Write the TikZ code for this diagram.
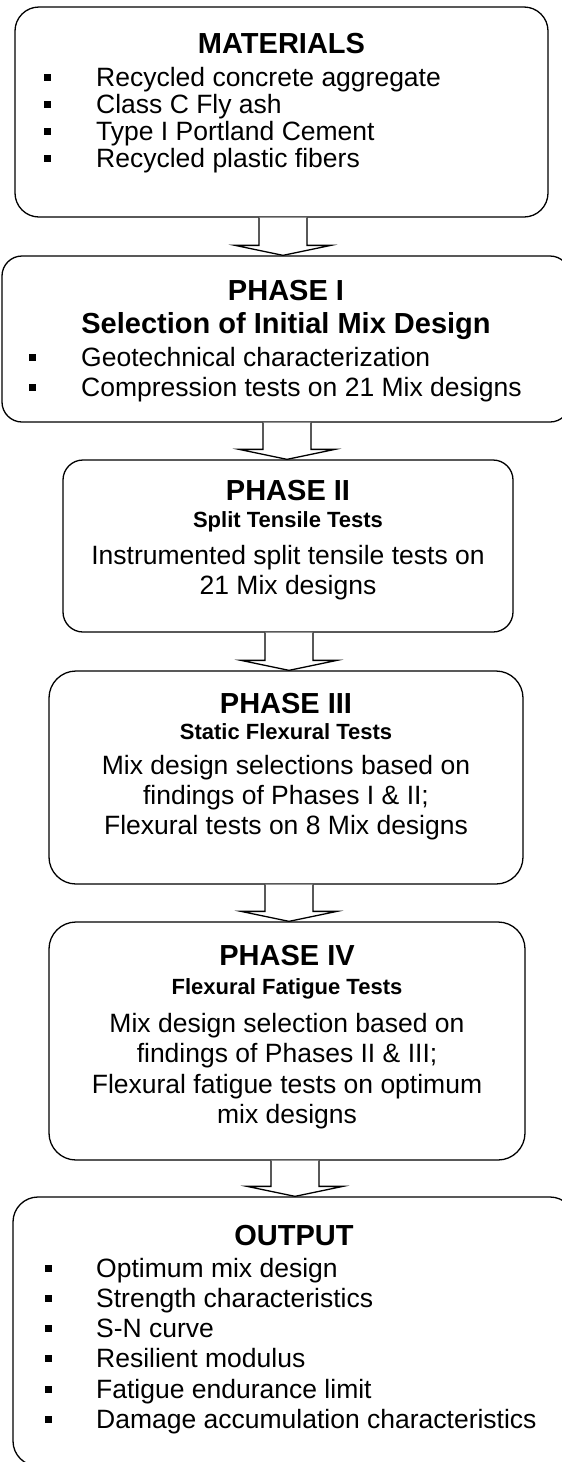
\documentclass[tikz,border=0pt]{standalone}
\usepackage{fontspec}
\setmainfont{Liberation Sans}
\usetikzlibrary{calc}

\tikzset{
  stage/.style={draw, line width=1.3pt, rounded corners=#1, inner sep=0pt, fill=white},
  stage/.default=22pt,
  ttl/.style={font=\bfseries\fontsize{29}{33}\selectfont, anchor=base, inner sep=0pt},
  sub/.style={font=\bfseries\fontsize{22}{25}\selectfont, anchor=base, inner sep=0pt},
  bdy/.style={font=\fontsize{26.5}{30}\selectfont, anchor=base, inner sep=0pt},
  itm/.style={font=\fontsize{26.5}{30}\selectfont, anchor=base west, inner sep=0pt},
  bul/.style={fill=black, inner sep=0pt, minimum size=7pt},
  blk/.style={draw, line width=1.3pt, fill=white, line join=miter},
}

% hollow block arrow from the bottom of one stage to the top of the next,
% centred on the given x position
\newcommand\flowarrow[3]{%
  \draw[blk] let \p1=(#1.south), \p2=(#2.north), \p3=(#3,0) in
    (\x3-24pt,\y1) -- (\x3-24pt,\y2+10pt) -- (\x3-48pt,\y2+10pt) --
    (\x3,\y2) -- (\x3+48pt,\y2+10pt) -- (\x3+24pt,\y2+10pt) -- (\x3+24pt,\y1);}

% one bulleted line: name, bullet x, text x, baseline y, text
\newcommand\bitem[5]{%
  \node[bul] (#1b) at (#2,#4-9) {};
  \node[itm] (#1) at (#3,#4) {#5};}

\begin{document}
\begin{tikzpicture}[x=1pt,y=-1pt]
\useasboundingbox (0,0) rectangle (562,1462);
\clip (0,0) rectangle (562,1462);

% stage boxes
\node[stage=24pt, minimum width=533pt, minimum height=210pt] (mat) at (281.5,112) {};
\node[stage=20pt, minimum width=568pt, minimum height=166pt] (ph1) at (286,339) {};
\node[stage=20pt, minimum width=450pt, minimum height=172pt] (ph2) at (288,546) {};
\node[stage=27pt, minimum width=474pt, minimum height=213pt] (ph3) at (286,777.5) {};
\node[stage=27pt, minimum width=476pt, minimum height=238pt] (ph4) at (287,1041) {};
\node[stage=25pt, minimum width=562pt, minimum height=269pt] (out) at (294,1331.5) {};

% connectors
\flowarrow{mat}{ph1}{283}
\flowarrow{ph1}{ph2}{287}
\flowarrow{ph2}{ph3}{289}
\flowarrow{ph3}{ph4}{289}
\flowarrow{ph4}{out}{295}

% MATERIALS
\node[ttl] (matT) at (281.5,53) {MATERIALS};
\bitem{m1}{47}{96}{86.5}{Recycled concrete aggregate}
\bitem{m2}{47}{96}{113.5}{Class C Fly ash}
\bitem{m3}{47}{96}{140.5}{Type I Portland Cement}
\bitem{m4}{47}{96}{167.5}{Recycled plastic fibers}

% PHASE I
\node[ttl] (p1T) at (286,300) {PHASE I};
\node[ttl] (p1S) at (286,333) {Selection of Initial Mix Design};
\bitem{p1a}{32}{81}{366.5}{Geotechnical characterization}
\bitem{p1b}{32}{81}{396.5}{Compression tests on 21 Mix designs}

% PHASE II
\node[ttl] (p2T) at (288,500) {PHASE II};
\node[sub] (p2S) at (288,527) {Split Tensile Tests};
\node[bdy] (p2a) at (288,564.5) {Instrumented split tensile tests on};
\node[bdy] (p2b) at (288,594.5) {21 Mix designs};

% PHASE III
\node[ttl] (p3T) at (286,713) {PHASE III};
\node[sub] (p3S) at (286,739) {Static Flexural Tests};
\node[bdy] (p3a) at (286,774.5) {Mix design selections based on};
\node[bdy] (p3b) at (286,804.5) {findings of Phases I \& II;};
\node[bdy] (p3c) at (286,834.5) {Flexural tests on 8 Mix designs};

% PHASE IV
\node[ttl] (p4T) at (287,965) {PHASE IV};
\node[sub] (p4S) at (287,994) {Flexural Fatigue Tests};
\node[bdy] (p4a) at (287,1032.5) {Mix design selection based on};
\node[bdy] (p4b) at (287,1062.5) {findings of Phases II \& III;};
\node[bdy] (p4c) at (287,1093.5) {Flexural fatigue tests on optimum};
\node[bdy] (p4d) at (287,1123.5) {mix designs};

% OUTPUT
\node[ttl] (outT) at (294,1245) {OUTPUT};
\bitem{o1}{48}{96}{1277.5}{Optimum mix design}
\bitem{o2}{48}{96}{1307.5}{Strength characteristics}
\bitem{o3}{48}{96}{1337.5}{S-N curve}
\bitem{o4}{48}{96}{1367.5}{Resilient modulus}
\bitem{o5}{48}{96}{1398.5}{Fatigue endurance limit}
\bitem{o6}{48}{96}{1428.5}{Damage accumulation characteristics}
\end{tikzpicture}
\end{document}
